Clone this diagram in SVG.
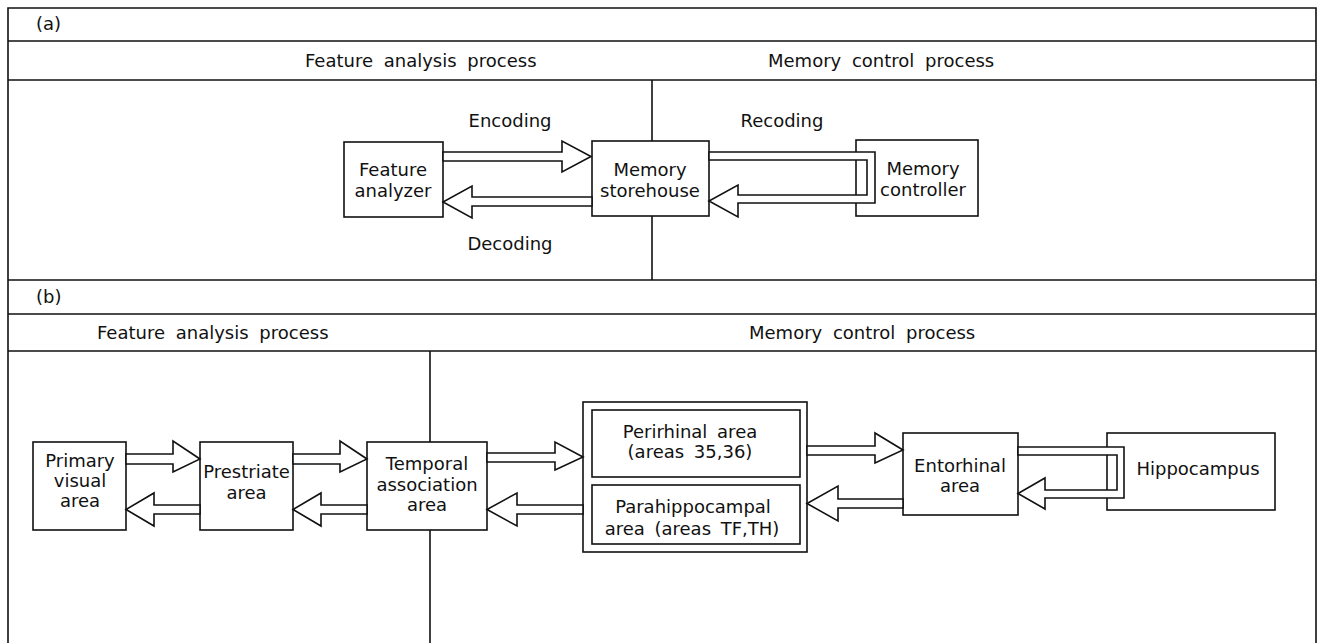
<svg xmlns="http://www.w3.org/2000/svg" width="1319" height="643" viewBox="0 0 1319 643">
<style>
.ln{stroke:#111;stroke-width:1.6;fill:none}
.bx{fill:#fff;stroke:#111;stroke-width:1.6}
.ar{fill:#fff;stroke:#111;stroke-width:1.6;stroke-linejoin:miter}
text{font-family:"DejaVu Sans",sans-serif;font-size:18px;fill:#111}
.c{text-anchor:middle}
.h{word-spacing:5px}
</style>
<rect width="1319" height="643" fill="#fff"/>
<g id="frame">
<path class="ln" d="M8,643 V8 H1316 V643"/>
<path class="ln" d="M8,41 H1316 M8,80 H1316 M8,280 H1316 M8,314 H1316 M8,351 H1316"/>
<path class="ln" d="M652,80 V280 M430,351 V643"/>
<text x="36" y="30">(a)</text>
<text x="305" y="67" class="h">Feature analysis process</text>
<text x="768" y="67" class="h">Memory control process</text>
<text x="36" y="303">(b)</text>
<text x="97" y="339" class="h">Feature analysis process</text>
<text x="749" y="339" class="h">Memory control process</text>
</g>
<g id="feature-analyzer">
<rect class="bx" x="344" y="142" width="99" height="75"/>
<text class="c" x="393" y="176">Feature</text>
<text class="c" x="393" y="197">analyzer</text>
</g>
<g id="memory-storehouse">
<rect class="bx" x="592" y="141" width="117" height="75"/>
<text class="c" x="650" y="176">Memory</text>
<text class="c" x="650" y="197">storehouse</text>
</g>
<g id="memory-controller">
<rect class="bx" x="856" y="140" width="122" height="76"/>
<text class="c" x="923" y="175">Memory</text>
<text class="c" x="923" y="196">controller</text>
</g>
<g id="primary-visual-area">
<rect class="bx" x="33" y="442" width="93" height="88"/>
<text class="c" x="80" y="467">Primary</text>
<text class="c" x="80" y="487">visual</text>
<text class="c" x="80" y="507">area</text>
</g>
<g id="prestriate-area">
<rect class="bx" x="200" y="442" width="93" height="88"/>
<text class="c" x="246.5" y="478">Prestriate</text>
<text class="c" x="246.5" y="499">area</text>
</g>
<g id="temporal-association-area">
<rect class="bx" x="367" y="442" width="120" height="88"/>
<text class="c" x="427" y="470">Temporal</text>
<text class="c" x="427" y="491">association</text>
<text class="c" x="427" y="511">area</text>
</g>
<g id="parahippocampal-region">
<rect class="bx" x="583" y="402" width="224" height="150"/>
</g>
<g id="perirhinal-area">
<rect class="bx" x="592" y="410" width="208" height="67"/>
<text class="c" x="690" y="438" word-spacing="4">Perirhinal area</text>
<text class="c" x="690" y="458" word-spacing="4">(areas 35,36)</text>
</g>
<g id="parahippocampal-area">
<rect class="bx" x="592" y="485" width="208" height="59"/>
<text class="c" x="693" y="513">Parahippocampal</text>
<text class="c" x="692" y="535" word-spacing="4">area (areas TF,TH)</text>
</g>
<g id="entorhinal-area">
<rect class="bx" x="903" y="433" width="115" height="82"/>
<text class="c" x="960" y="472">Entorhinal</text>
<text class="c" x="960" y="492">area</text>
</g>
<g id="hippocampus">
<rect class="bx" x="1107" y="433" width="168" height="77"/>
<text class="c" x="1198" y="475">Hippocampus</text>
</g>
<g id="connectors">
<path class="ar" d="M443,152 H562 V141 L591,156.5 L562,172 V161 H443 Z"/>
<path class="ar" d="M592,197 H472 V186 L443,202 L472,218 V206 H592 Z"/>
<path class="ar" d="M709,152 H875 V203 H738 V217 L709,201 L738,185 V195 H867 V160 H709 Z"/>
<text class="c" x="510" y="127">Encoding</text>
<text class="c" x="510" y="250">Decoding</text>
<text class="c" x="782" y="127">Recoding</text>
<path class="ar" d="M126,454 H173 V441 L200,459 L173,472 V464 H126 Z"/>
<path class="ar" d="M200,505 H154 V493 L126,509.5 L154,526 V514 H200 Z"/>
<path class="ar" d="M293,454 H340 V441 L367,459 L340,472 V464 H293 Z"/>
<path class="ar" d="M367,505 H321 V493 L293,509.5 L321,526 V514 H367 Z"/>
<path class="ar" d="M487,453 H555 V442 L583,457 L555,470 V462 H487 Z"/>
<path class="ar" d="M583,505 H517 V493 L487,509.5 L517,526 V514 H583 Z"/>
<path class="ar" d="M807,446 H875 V433 L903,450 L875,463 V455 H807 Z"/>
<path class="ar" d="M903,499 H838 V486 L807,503.5 L838,521 V508 H903 Z"/>
<path class="ar" d="M1018,447 H1124 V498 H1045 V509 L1018,493.5 L1045,478 V490 H1117 V455 H1018 Z"/>
</g>
</svg>
